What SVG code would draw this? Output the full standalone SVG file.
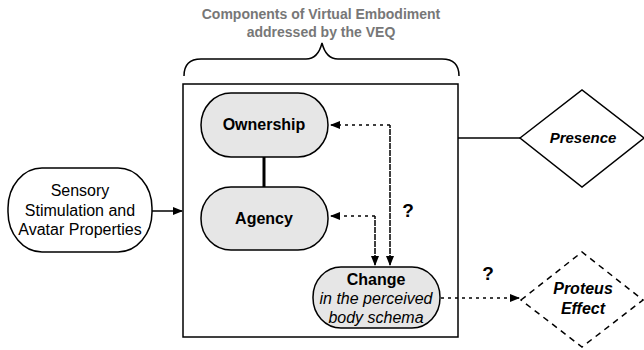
<svg xmlns="http://www.w3.org/2000/svg" width="644" height="350" viewBox="0 0 644 350">
<defs>
<marker id="ah" viewBox="0 0 10 10" refX="9" refY="5" markerWidth="10" markerHeight="10" markerUnits="userSpaceOnUse" orient="auto">
<path d="M0,1 L10,5 L0,9 Z" fill="#000"/>
</marker>
</defs>
<style>
text{font-family:"Liberation Sans",Arial,sans-serif;fill:#000;text-anchor:middle}
.title{font-size:14px;font-weight:bold;fill:#777}
.node{fill:#e6e6e6;stroke:#000;stroke-width:1.5}
.white{fill:#fff;stroke:#000;stroke-width:1.5}
.lbl{font-size:16px;font-weight:bold}
.chg{font-size:16px;font-weight:bold}
.it{font-size:16px;font-style:italic}
.plain{font-size:16px}
.dia{font-size:15px;font-weight:bold;font-style:italic}
.dia2{font-size:16px;font-weight:bold;font-style:italic}
.q{font-size:19px;font-weight:bold}
.dot{fill:none;stroke:#000;stroke-width:1.5;stroke-dasharray:3 4}
.solid{fill:none;stroke:#000;stroke-width:1.5}
</style>
<g id="title">
<text class="title" x="321" y="19">Components of Virtual Embodiment</text>
<text class="title" x="321" y="37">addressed by the VEQ</text>
<path class="solid" d="M184,76 Q184,59 201,59 L306,59 Q318,59 322,43 Q326,59 338,59 L442,59 Q459,59 459,76"/>
</g>
<g id="box"><rect x="183" y="84" width="275" height="253" fill="none" stroke="#000" stroke-width="1.5"/></g>
<g id="connectors">
<line x1="264" y1="157" x2="264" y2="187" stroke="#000" stroke-width="3"/>
<line class="solid" x1="152" y1="211" x2="182" y2="211" marker-end="url(#ah)"/>
<line class="solid" x1="458" y1="138" x2="520" y2="138"/>
<path class="dot" d="M390,265 L390,125 L331,125" marker-end="url(#ah)"/>
<path class="dot" d="M390,125 L390,265" marker-end="url(#ah)"/>
<path class="dot" d="M375,265 L375,216 L331,216" marker-end="url(#ah)"/>
<path class="dot" d="M375,216 L375,265" marker-end="url(#ah)"/>
<line class="dot" x1="441" y1="298" x2="519" y2="298" marker-end="url(#ah)"/>
<text class="q" x="408" y="217">?</text>
<text class="q" x="488" y="280">?</text>
</g>
<g id="sensory">
<rect class="white" x="8" y="168" width="144" height="84" rx="34" ry="40"/>
<text class="plain" x="80" y="196">Sensory</text>
<text class="plain" x="80" y="216">Stimulation and</text>
<text class="plain" x="80" y="235">Avatar Properties</text>
</g>
<g id="ownership">
<rect class="node" x="201" y="93" width="127" height="64" rx="30" ry="32"/>
<text class="lbl" x="264" y="130">Ownership</text>
</g>
<g id="agency">
<rect class="node" x="201" y="187" width="127" height="63" rx="30" ry="31"/>
<text class="lbl" x="264" y="224">Agency</text>
</g>
<g id="change">
<rect class="node" x="313" y="267" width="127" height="61" rx="28" ry="30"/>
<text class="chg" x="376" y="285">Change</text>
<text class="it" x="376" y="304">in the perceived</text>
<text class="it" x="376" y="323">body schema</text>
</g>
<g id="presence">
<polygon class="white" points="520,138 582,90 644,138 582,187"/>
<text class="dia" x="583" y="143">Presence</text>
</g>
<g id="proteus">
<polygon points="521,300 582,252 643,300 582,347" fill="#fff" stroke="#000" stroke-width="1.5" stroke-dasharray="6 5"/>
<text class="dia2" x="583" y="294">Proteus</text>
<text class="dia2" x="583" y="314">Effect</text>
</g>
</svg>
